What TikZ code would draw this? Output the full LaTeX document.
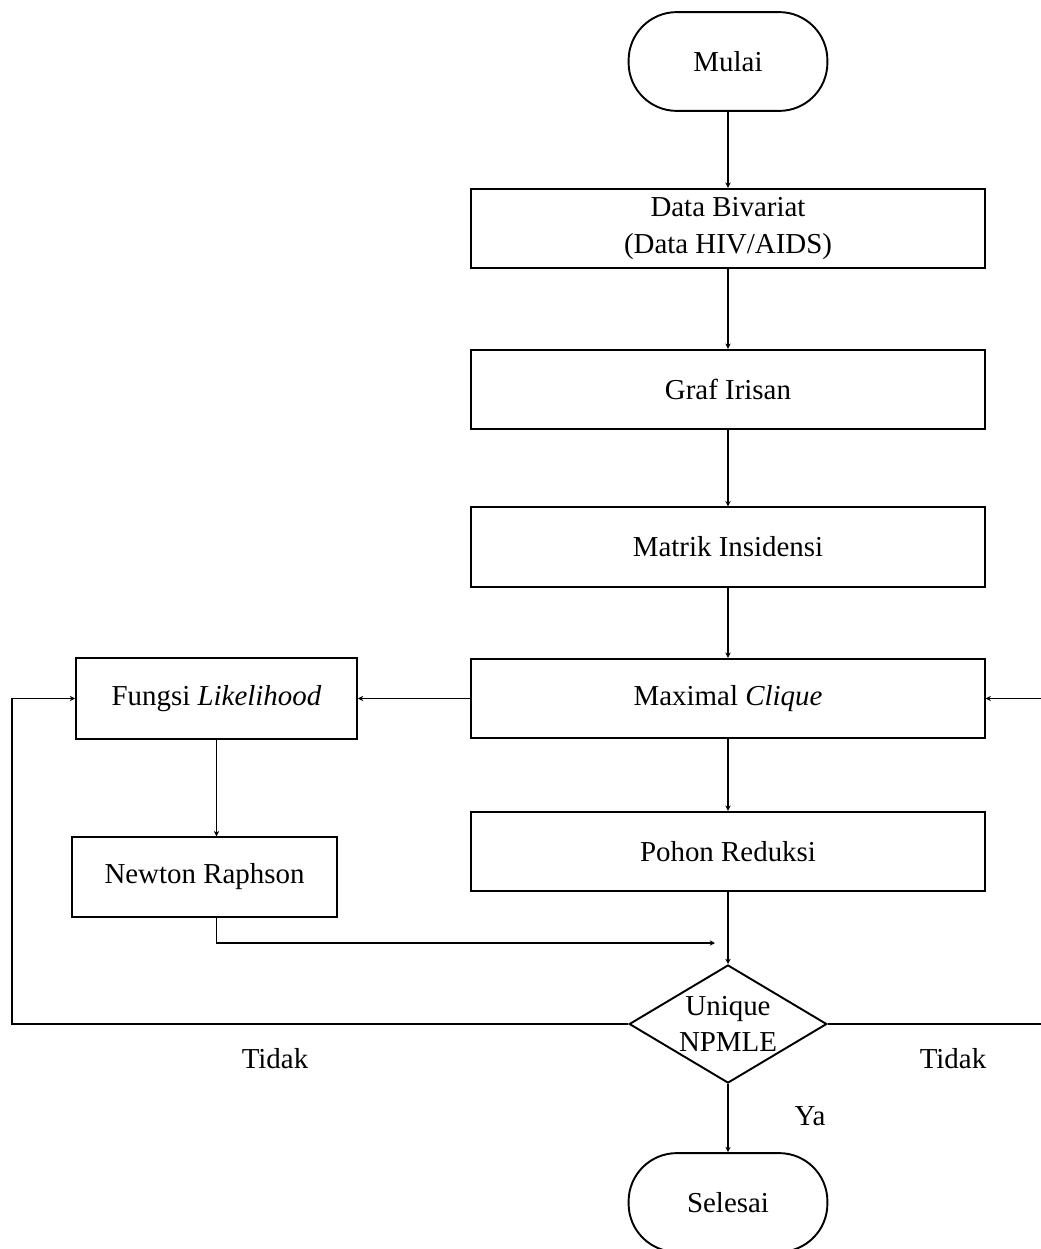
\documentclass[tikz,border=0pt]{standalone}
\usepackage{fontspec}
\setmainfont{Liberation Serif}
\usetikzlibrary{shapes.geometric,arrows.meta,calc}

\begin{document}
\begin{tikzpicture}[x=0.415pt,y=-0.415pt]
\tikzstyle{every node}=[font=\fontsize{12}{15}\selectfont]
\tikzstyle{proses}=[draw,line width=0.8pt,rectangle,minimum width=213pt,minimum height=33pt,inner sep=0pt,align=center]
\tikzstyle{terminal}=[draw,line width=0.8pt,rectangle,rounded corners=20pt,minimum width=82.5pt,minimum height=41pt]
\tikzstyle{keputusan}=[draw,line width=0.8pt,diamond,minimum width=82pt,minimum height=49pt,inner sep=0pt]
\tikzstyle{garis}=[line width=0.5pt,-{Stealth[length=2.2pt,width=2.2pt]}]

	\useasboundingbox (0,0) rectangle (1041,1249);

	% alur utama
	\node[terminal] (mulai) at (728,61.5) {Mulai};
	\node[proses] (data) at (728,228.5) {Data Bivariat\\(Data HIV/AIDS)};
	\node[proses] (graf) at (728,389.5) {Graf Irisan};
	\node[proses] (matrik) at (728,547) {Matrik Insidensi};
	\node[proses] (maximal) at (728,698.5) {Maximal \textit{Clique}};
	\node[proses] (pohon) at (728,851.5) {Pohon Reduksi};
	\node[keputusan] (cek) at (728,1024) {};
	\node[align=center,inner sep=0pt] (cektext) at (cek) {Unique\\NPMLE};
	\node[terminal] (selesai) at (728,1202.5) {Selesai};

	% cabang kiri
	\node[proses,minimum width=116.6pt,minimum height=33.6pt] (fungsi) at (216.5,698.5) {Fungsi \textit{Likelihood}};
	\node[proses,minimum width=110pt,minimum height=33pt] (newton) at (204.5,877) {Newton Raphson};

	\coordinate (temu) at (715,943);
	\coordinate (kiri) at (12,1024);
	\coordinate (kanan) at (1050,1024);

	\draw[garis] (mulai) -- (data);
	\draw[garis] (data) -- (graf);
	\draw[garis] (graf) -- (matrik);
	\draw[garis] (matrik) -- (maximal);
	\draw[garis] (maximal) -- (pohon);
	\draw[garis] (pohon) -- (cek);
	\draw[garis] (cek) -- (selesai);
	\draw[garis] (maximal) -- (fungsi);
	\draw[garis] (fungsi) -- (fungsi |- newton.north);
	\draw[garis] (fungsi |- newton.south) |- (temu);
	\draw[garis] (cek.west) -- (kiri) |- (fungsi.west);
	\draw[garis] (cek.east) -- (kanan) |- (maximal.east);

	\node (tidakkiri) at (275,1059) {Tidak};
	\node (tidakkanan) at (953,1059) {Tidak};
	\node (ya) at (810,1116) {Ya};
\end{tikzpicture}
\end{document}
